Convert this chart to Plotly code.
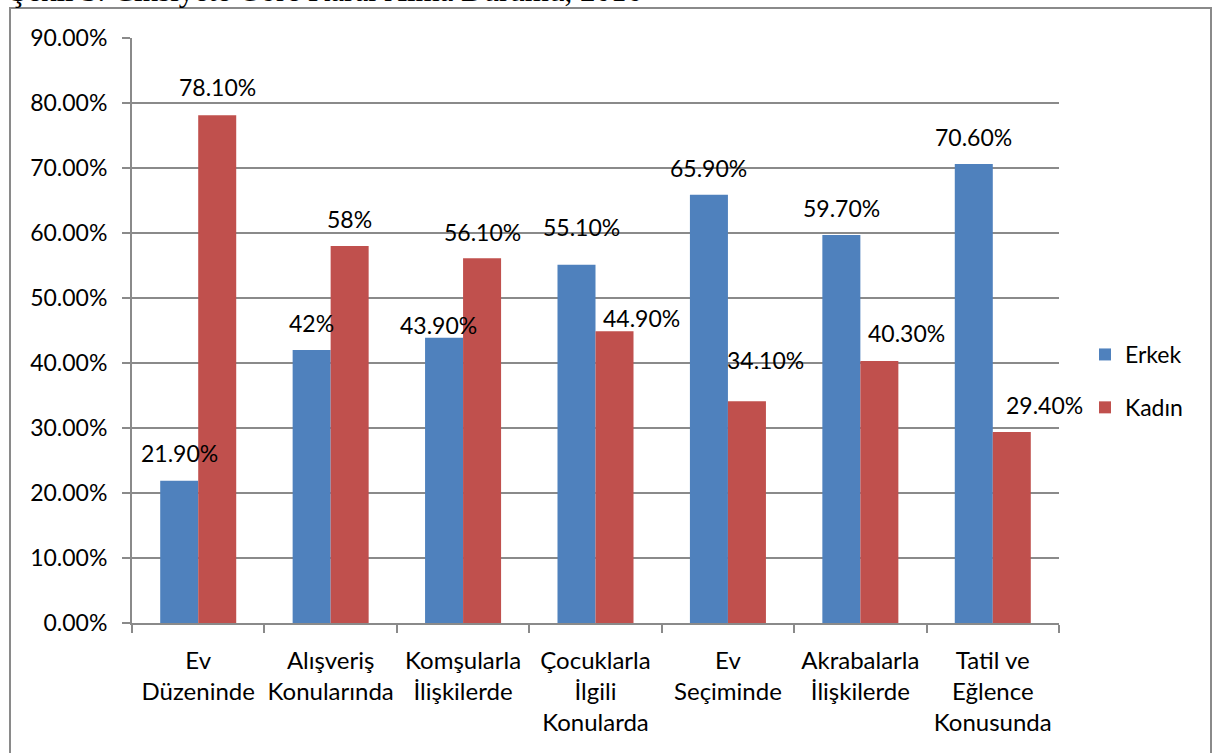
import plotly.graph_objects as go

categories = ["Ev<br>Düzeninde", "Alışveriş<br>Konularında", "Komşularla<br>İlişkilerde",
              "Çocuklarla<br>İlgili<br>Konularda", "Ev<br>Seçiminde",
              "Akrabalarla<br>İlişkilerde", "Tatil ve<br>Eğlence<br>Konusunda"]
erkek = [0.219, 0.42, 0.439, 0.551, 0.659, 0.597, 0.706]
kadin = [0.781, 0.58, 0.561, 0.449, 0.341, 0.403, 0.294]
erkek_labels = ["21.90%", "42%", "43.90%", "55.10%", "65.90%", "59.70%", "70.60%"]
kadin_labels = ["78.10%", "58%", "56.10%", "44.90%", "34.10%", "40.30%", "29.40%"]
y_ticks = [i / 10 for i in range(10)]
y_ticktext = [f"{v*100:.2f}%" for v in y_ticks]
title_text = "Şekil 3: Cinsiyete Göre Karar Alma Durumu, 2016"

# style: label offsets (pixels) as placed in the original
erkek_dx = [0, 0, -6, 5, 0, 0, 0]
erkek_dy = [28, 27, 13, 38, 27, 27, 27]
kadin_dx = [0, 0, 0, 27, 19, 27, 33]
kadin_dy = [28, 27, 26, 13, 41, 28, 27]

BLUE = "#4F81BD"
RED = "#C0504D"
FONT = "Lato"
W, H = 1214, 753
# plot area in page pixels: x 132..1059, y 38..623
L, T = 132, 38
R = W - 1059
B = H - 623
BARGAP = 0.426

fig = go.Figure()
fig.add_trace(go.Bar(name="Erkek", x=categories, y=erkek, marker=dict(color=BLUE, line=dict(width=0)),
                     legendgroup="e"))
fig.add_trace(go.Bar(name="Kadın", x=categories, y=kadin, marker=dict(color=RED, line=dict(width=0)),
                     legendgroup="k"))

half = (1 - BARGAP) / 4
ann = []
for i in range(len(categories)):
    ann.append(dict(x=i - half, y=erkek[i], xref="x", yref="y", text=erkek_labels[i], showarrow=False,
                    xshift=erkek_dx[i], yshift=erkek_dy[i], yanchor="middle",
                    font=dict(family=FONT, size=23, color="#000")))
    ann.append(dict(x=i + half, y=kadin[i], xref="x", yref="y", text=kadin_labels[i], showarrow=False,
                    xshift=kadin_dx[i], yshift=kadin_dy[i], yanchor="middle",
                    font=dict(family=FONT, size=23, color="#000")))

pw, ph = W - L - R, H - T - B
def px(xp):  # page pixel -> paper
    return (xp - L) / pw
def py(yp):
    return (H - B - yp) / ph

ann.append(dict(x=px(8), y=py(10), xref="paper", yref="paper", xanchor="left", yanchor="bottom",
                text=title_text, showarrow=False, font=dict(family="Liberation Serif", size=31, color="#000")))

fig.update_layout(
    width=W, height=H,
    margin=dict(l=L, r=R, t=T, b=B, autoexpand=False),
    plot_bgcolor="white", paper_bgcolor="white",
    barmode="group", bargap=BARGAP, bargroupgap=0,
    font=dict(family=FONT, size=23, color="#000"),
    annotations=ann,
    shapes=[dict(type="rect", xref="paper", yref="paper", x0=px(10), x1=px(1211), y0=py(790), y1=py(8),
                 line=dict(color="#8a8a8a", width=2), layer="below")],
    legend=dict(x=px(1085), y=py(381), xanchor="left", yanchor="middle", font=dict(family=FONT, size=23),
                tracegroupgap=20, bgcolor="rgba(0,0,0,0)"),
    showlegend=True,
)
fig.update_xaxes(type="category", range=[-0.5, len(categories) - 0.5], autorange=False,
                 showline=True, linecolor="#8a8a8a", linewidth=2,
                 ticks="outside", tickson="boundaries", ticklen=8, tickcolor="#8a8a8a", tickwidth=2,
                 tickangle=0, tickfont=dict(family=FONT, size=24), ticklabelstandoff=15, showgrid=False)
fig.update_yaxes(range=[0, 0.9], autorange=False, tickvals=y_ticks, ticktext=y_ticktext, showline=True,
                 linecolor="#8a8a8a", linewidth=2, ticks="outside", ticklen=8, tickcolor="#8a8a8a", tickwidth=2,
                 showgrid=True, gridcolor="#8a8a8a", gridwidth=1.5, zeroline=False,
                 tickfont=dict(family=FONT, size=23), ticklabelstandoff=10)

fig.write_html("out.html", config={"displayModeBar": False},
               post_script="document.body.style.margin='0';")
